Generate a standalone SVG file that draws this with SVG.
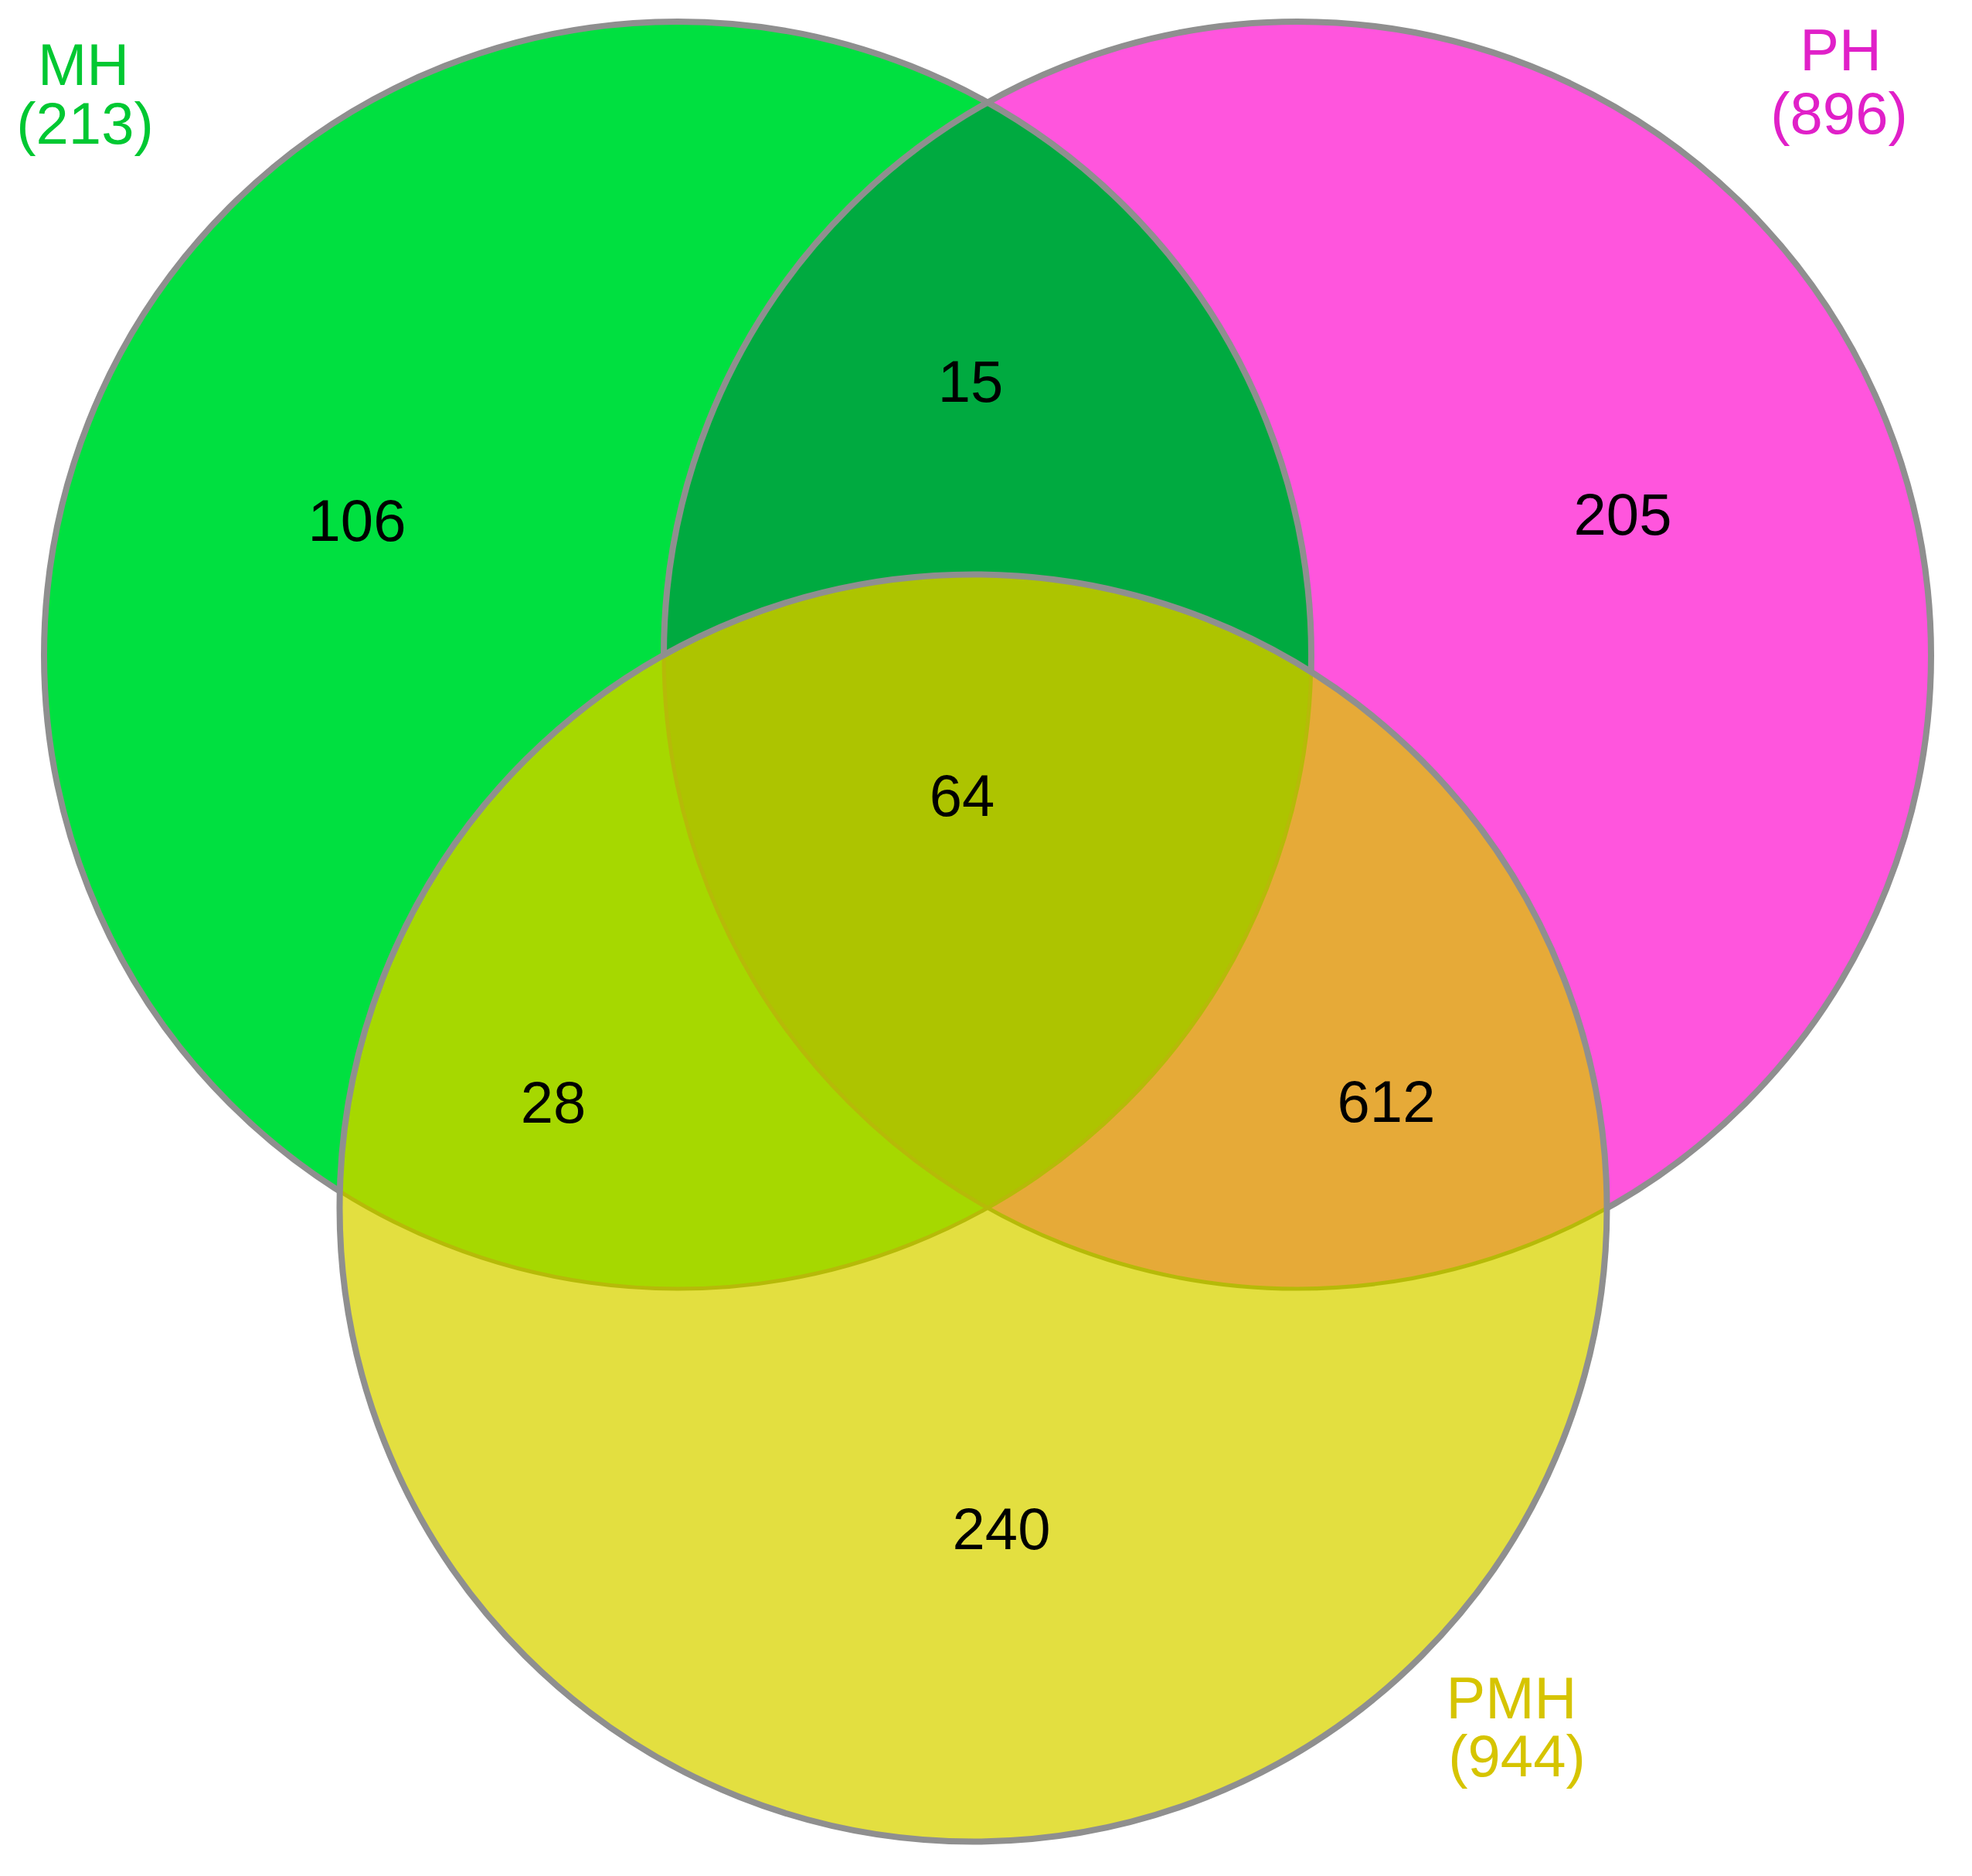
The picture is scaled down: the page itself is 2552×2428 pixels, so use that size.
<svg xmlns="http://www.w3.org/2000/svg" width="2552" height="2428" viewBox="0 0 2552 2428">
  <style>
    .num { font-family: "Liberation Sans", Arial, sans-serif; font-size: 76px; fill: #000000; text-anchor: middle; }
    .lbl { font-family: "Liberation Sans", Arial, sans-serif; font-size: 76px; text-anchor: middle; }
    .edge { fill: none; stroke: #8f8f8f; stroke-width: 8; }
    .inner { fill: none; stroke: #b6ba08; stroke-width: 5; }
  </style>
  <defs>
    <circle id="cMHs" cx="877" cy="848" r="820"/>
    <circle id="cPHs" cx="1679" cy="848" r="820"/>
    <circle id="cPMHs" cx="1259.5" cy="1563.5" r="820"/>
    <clipPath id="clipMH"><use href="#cMHs"/></clipPath>
    <clipPath id="clipPH"><use href="#cPHs"/></clipPath>
    <clipPath id="clipPMH"><use href="#cPMHs"/></clipPath>
  </defs>
  <rect x="0" y="0" width="2552" height="2428" fill="#ffffff"/>

  <g id="MH">
    <use href="#cMHs" fill="#00e040"/>
  </g>
  <g id="PH">
    <use href="#cPHs" fill="#ff55dd"/>
  </g>
  <g id="PMH">
    <use href="#cPMHs" fill="#e3df40"/>
  </g>
  <g id="MH-PH">
    <use href="#cPHs" fill="#00aa40" clip-path="url(#clipMH)"/>
  </g>
  <g id="MH-PMH">
    <use href="#cPMHs" fill="#a6d800" clip-path="url(#clipMH)"/>
  </g>
  <g id="PH-PMH">
    <use href="#cPMHs" fill="#e6aa38" clip-path="url(#clipPH)"/>
  </g>
  <g id="MH-PH-PMH">
    <g clip-path="url(#clipPH)">
      <use href="#cPMHs" fill="#adc400" clip-path="url(#clipMH)"/>
    </g>
  </g>

  <g id="connectors">
    <g clip-path="url(#clipPMH)">
      <use href="#cMHs" class="inner"/>
      <use href="#cPHs" class="inner"/>
    </g>
    <g id="outer-edges">
      <mask id="outsidePMH" maskUnits="userSpaceOnUse" x="0" y="0" width="2552" height="2428">
        <rect x="0" y="0" width="2552" height="2428" fill="#ffffff"/>
        <use href="#cPMHs" fill="#000000"/>
      </mask>
      <g mask="url(#outsidePMH)">
        <use href="#cMHs" class="edge"/>
        <use href="#cPHs" class="edge"/>
      </g>
      <use href="#cPMHs" class="edge"/>
    </g>
  </g>

  <g id="labels">
    <text class="lbl" x="108" y="110" fill="#00c832">MH</text>
    <text class="lbl" x="110" y="186" fill="#00c832">(213)</text>
    <text class="lbl" x="2382" y="91" fill="#e020c8">PH</text>
    <text class="lbl" x="2380" y="173" fill="#e020c8">(896)</text>
    <text class="lbl" x="1956" y="2224" fill="#d6c400">PMH</text>
    <text class="lbl" x="1963" y="2299" fill="#d6c400">(944)</text>
  </g>

  <g id="counts">
    <text class="num" x="1256" y="520">15</text>
    <text class="num" x="462" y="700">106</text>
    <text class="num" x="2100" y="692">205</text>
    <text class="num" x="1245" y="1056">64</text>
    <text class="num" x="716" y="1453">28</text>
    <text class="num" x="1794" y="1452">612</text>
    <text class="num" x="1296" y="2005">240</text>
  </g>
</svg>
